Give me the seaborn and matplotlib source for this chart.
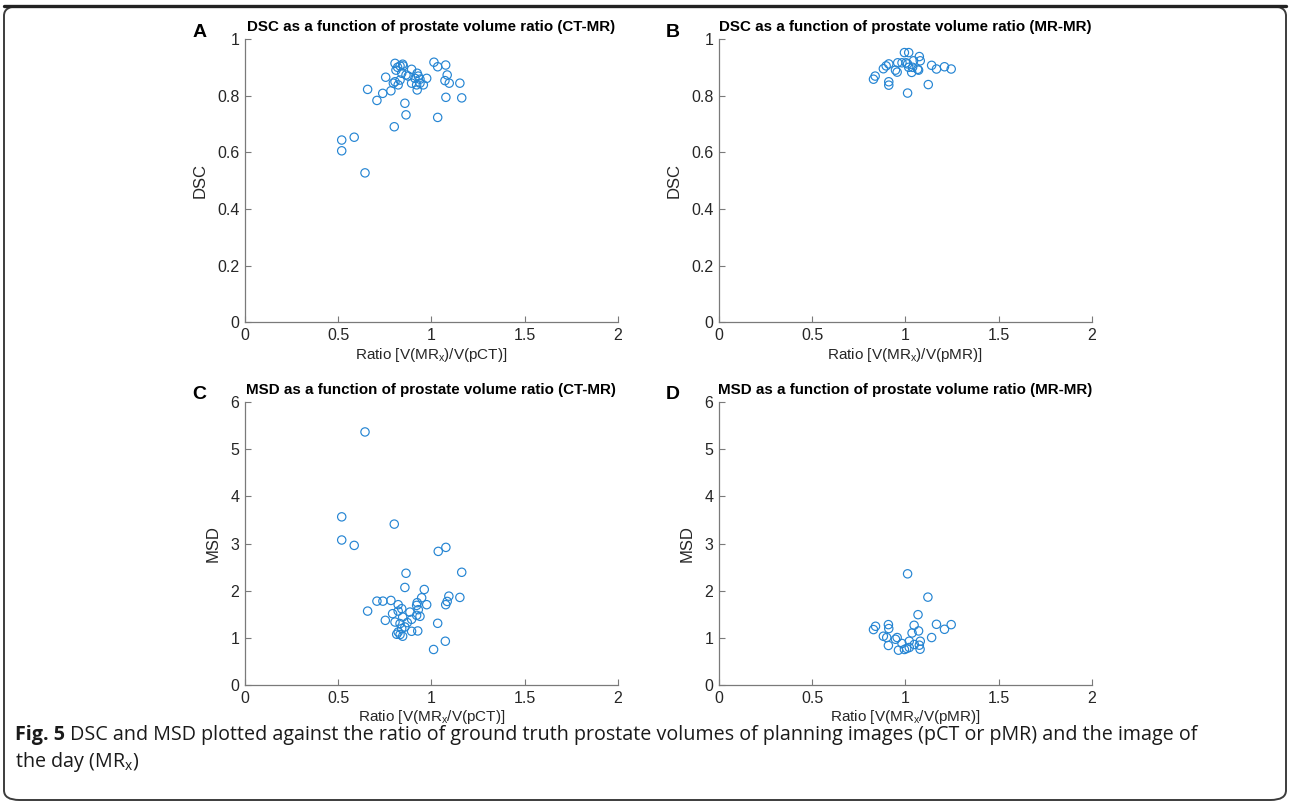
import matplotlib
matplotlib.use("Agg")
import matplotlib.pyplot as plt
from matplotlib.patches import FancyBboxPatch
from matplotlib.lines import Line2D
import seaborn as sns
import pandas as pd

# ---------------- data ----------------
ct_ratio_dsc = [0.644, 0.519, 0.519, 0.586, 0.801, 0.864, 1.034, 0.858, 1.078, 1.163,
                0.708, 0.739, 0.783, 0.658, 0.755, 0.805, 0.819, 0.832, 0.846, 0.849,
                1.014, 1.034, 1.077, 0.894, 0.864, 0.876, 0.924, 0.930, 0.975, 1.085,
                1.073, 1.096, 1.153, 0.832, 0.805, 0.796, 0.822, 0.894, 0.921, 0.939,
                0.957, 0.924, 0.810, 0.841, 0.912, 0.939]
dsc_ct = [0.528, 0.644, 0.606, 0.654, 0.691, 0.733, 0.724, 0.774, 0.795, 0.793,
          0.784, 0.809, 0.818, 0.823, 0.866, 0.915, 0.901, 0.906, 0.912, 0.906,
          0.919, 0.903, 0.909, 0.894, 0.874, 0.870, 0.880, 0.870, 0.862, 0.874,
          0.854, 0.845, 0.845, 0.856, 0.850, 0.845, 0.839, 0.845, 0.839, 0.845,
          0.839, 0.821, 0.891, 0.880, 0.862, 0.859]

mr_ratio_dsc = [0.995, 1.018, 1.075, 1.080, 1.044, 0.959, 0.982, 1.004, 1.012, 0.911,
                0.897, 0.882, 1.018, 1.039, 1.066, 1.071, 0.947, 0.956, 1.034, 1.141,
                1.167, 1.210, 1.246, 0.838, 0.829, 0.911, 0.911, 1.123, 1.012]
dsc_mr = [0.953, 0.953, 0.939, 0.924, 0.924, 0.917, 0.917, 0.917, 0.913, 0.913,
          0.906, 0.896, 0.901, 0.901, 0.894, 0.891, 0.891, 0.884, 0.883, 0.908,
          0.895, 0.903, 0.895, 0.870, 0.859, 0.850, 0.838, 0.840, 0.810]

ct_ratio_msd = [0.644, 0.519, 0.519, 0.586, 0.801, 1.037, 1.078, 0.864, 1.163, 0.858,
                0.962, 1.094, 1.153, 0.948, 0.708, 0.740, 0.783, 0.924, 0.921, 0.975,
                1.085, 1.077, 0.822, 0.841, 0.930, 0.658, 0.792, 0.885, 0.822, 0.921,
                0.939, 0.846, 0.894, 0.753, 0.805, 0.832, 0.871, 0.858, 1.034, 0.841,
                0.894, 0.927, 0.822, 0.814, 0.832, 0.846, 1.075, 1.012]
msd_ct = [5.365, 3.565, 3.074, 2.960, 3.411, 2.833, 2.918, 2.369, 2.390, 2.068,
          2.025, 1.884, 1.857, 1.850, 1.778, 1.778, 1.793, 1.745, 1.688, 1.703,
          1.772, 1.703, 1.703, 1.618, 1.597, 1.567, 1.512, 1.546, 1.567, 1.477,
          1.456, 1.441, 1.392, 1.371, 1.335, 1.302, 1.323, 1.230, 1.308, 1.196,
          1.139, 1.146, 1.124, 1.076, 1.070, 1.034, 0.928, 0.753]

mr_ratio_msd = [1.012, 1.121, 1.068, 1.047, 1.071, 1.036, 1.167, 1.210, 1.246, 1.141,
                0.840, 0.829, 0.909, 0.911, 0.882, 0.900, 0.909, 0.947, 0.956, 0.982,
                1.021, 1.080, 1.048, 1.075, 0.963, 0.995, 1.007, 1.021, 1.079]
msd_mr = [2.357, 1.863, 1.491, 1.266, 1.146, 1.103, 1.287, 1.181, 1.280, 1.006,
          1.245, 1.175, 1.280, 1.196, 1.034, 1.006, 0.838, 0.970, 1.006, 0.880,
          0.928, 0.928, 0.859, 0.844, 0.738, 0.753, 0.774, 0.795, 0.759]

panel_letters = ["A", "B", "C", "D"]
panel_titles = ["DSC as a function of prostate volume ratio (CT-MR)",
                "DSC as a function of prostate volume ratio (MR-MR)",
                "MSD as a function of prostate volume ratio (CT-MR)",
                "MSD as a function of prostate volume ratio (MR-MR)"]
x_labels = [r"Ratio [V(MR$_\mathregular{x}$)/V(pCT)]",
            r"Ratio [V(MR$_\mathregular{x}$)/V(pMR)]",
            r"Ratio [V(MR$_\mathregular{x}$/V(pCT)]",
            r"Ratio [V(MR$_\mathregular{x}$/V(pMR)]"]
y_labels = ["DSC", "DSC", "MSD", "MSD"]
x_ticks = [0, 0.5, 1, 1.5, 2]
x_tick_labels = ["0", "0.5", "1", "1.5", "2"]
dsc_ticks = [0, 0.2, 0.4, 0.6, 0.8, 1]
dsc_tick_labels = ["0", "0.2", "0.4", "0.6", "0.8", "1"]
msd_ticks = [0, 1, 2, 3, 4, 5, 6]
msd_tick_labels = ["0", "1", "2", "3", "4", "5", "6"]

caption_bold = "Fig. 5"
caption_line1 = (" DSC and MSD plotted against the ratio of ground truth prostate volumes of "
                 "planning images (pCT or pMR) and the image of")
caption_line2 = r"the day (MR$_\mathregular{x}$)"

# ---------------- styling ----------------
sns.set_theme(style="white")
plt.rcParams["font.family"] = ["Liberation Sans", "DejaVu Sans"]
plt.rcParams["mathtext.fontset"] = "custom"
plt.rcParams["mathtext.rm"] = "Liberation Sans"
plt.rcParams["mathtext.it"] = "Liberation Sans:italic"

W, H = 1290, 807
fig = plt.figure(figsize=(W / 100, H / 100), dpi=100)
fig.patch.set_facecolor("white")

blue = "#2585d3"
axis_col = "#7a7a7a"

def fx(px):
    return px / W

def fy(py):
    return 1 - py / H

ax_w = (617.7 - 245) / W
ax_h = (322.3 - 39.3) / H
positions = [
    (fx(245), fy(322.3)),
    (fx(719), fy(322.3)),
    (fx(245), fy(685)),
    (fx(719), fy(685)),
]

datasets = [
    (ct_ratio_dsc, dsc_ct),
    (mr_ratio_dsc, dsc_mr),
    (ct_ratio_msd, msd_ct),
    (mr_ratio_msd, msd_mr),
]

for i in range(4):
    left, bottom = positions[i]
    ax = fig.add_axes([left, bottom, ax_w, ax_h])
    xs, ys = datasets[i]
    df = pd.DataFrame({"ratio": xs, "value": ys})
    sns.scatterplot(data=df, x="ratio", y="value", ax=ax, marker="o", s=36,
                    facecolor="none", edgecolor=blue, linewidth=0.85, legend=False)
    ax.set_xlim(0, 2)
    if i < 2:
        ax.set_ylim(0, 1)
        ax.set_yticks(dsc_ticks)
        ax.set_yticklabels(dsc_tick_labels)
    else:
        ax.set_ylim(0, 6)
        ax.set_yticks(msd_ticks)
        ax.set_yticklabels(msd_tick_labels)
    ax.set_xticks(x_ticks)
    ax.set_xticklabels(x_tick_labels)
    ax.set_facecolor("white")
    for side in ["top", "right"]:
        ax.spines[side].set_visible(False)
    for side in ["left", "bottom"]:
        ax.spines[side].set_visible(True)
        ax.spines[side].set_color(axis_col)
        ax.spines[side].set_linewidth(0.9)
    ax.tick_params(axis="both", direction="in", length=4, width=0.8, color=axis_col,
                   labelsize=11.5, labelcolor="#262626", pad=4, left=True, bottom=True)
    ax.set_xlabel(x_labels[i], fontsize=11, color="#262626", labelpad=2)
    ax.set_ylabel(y_labels[i], fontsize=12, color="#262626", labelpad=7)
    ax.set_title(panel_titles[i], fontsize=10.9, fontweight="bold", color="black", pad=6)
    ax.text(-0.123, 1.025, panel_letters[i], transform=ax.transAxes, fontsize=14,
            fontweight="bold", color="black", ha="center", va="center")

# ---------------- caption ----------------
cap_size = 14.2
fig.canvas.draw()
renderer = fig.canvas.get_renderer()
t_bold = fig.text(fx(15), fy(735), caption_bold, fontsize=cap_size, fontweight="bold",
                  family=["Open Sans", "DejaVu Sans"], va="center", ha="left", color="#1a1a1a")
bb = t_bold.get_window_extent(renderer=renderer)
fig.text(bb.x1 / W, fy(735), caption_line1, fontsize=cap_size,
         family=["Open Sans", "DejaVu Sans"], va="center", ha="left", color="#1a1a1a")
fig.text(fx(15), fy(762), caption_line2, fontsize=cap_size,
         family=["Open Sans", "DejaVu Sans"], va="center", ha="left", color="#1a1a1a")

# ---------------- frame ----------------
box = FancyBboxPatch((fx(4), fy(800)), fx(1286) - fx(4), fy(6) - fy(800),
                     boxstyle="round,pad=0,rounding_size=0.012",
                     transform=fig.transFigure, facecolor="none",
                     edgecolor="#3c3c3c", linewidth=1.4, zorder=-1)
fig.patches.append(box)
fig.lines.append(Line2D([fx(4), fx(1286)], [fy(5.5), fy(5.5)], transform=fig.transFigure,
                        color="#222222", linewidth=2.4))

fig.savefig("out.png", dpi=100, facecolor="white")
